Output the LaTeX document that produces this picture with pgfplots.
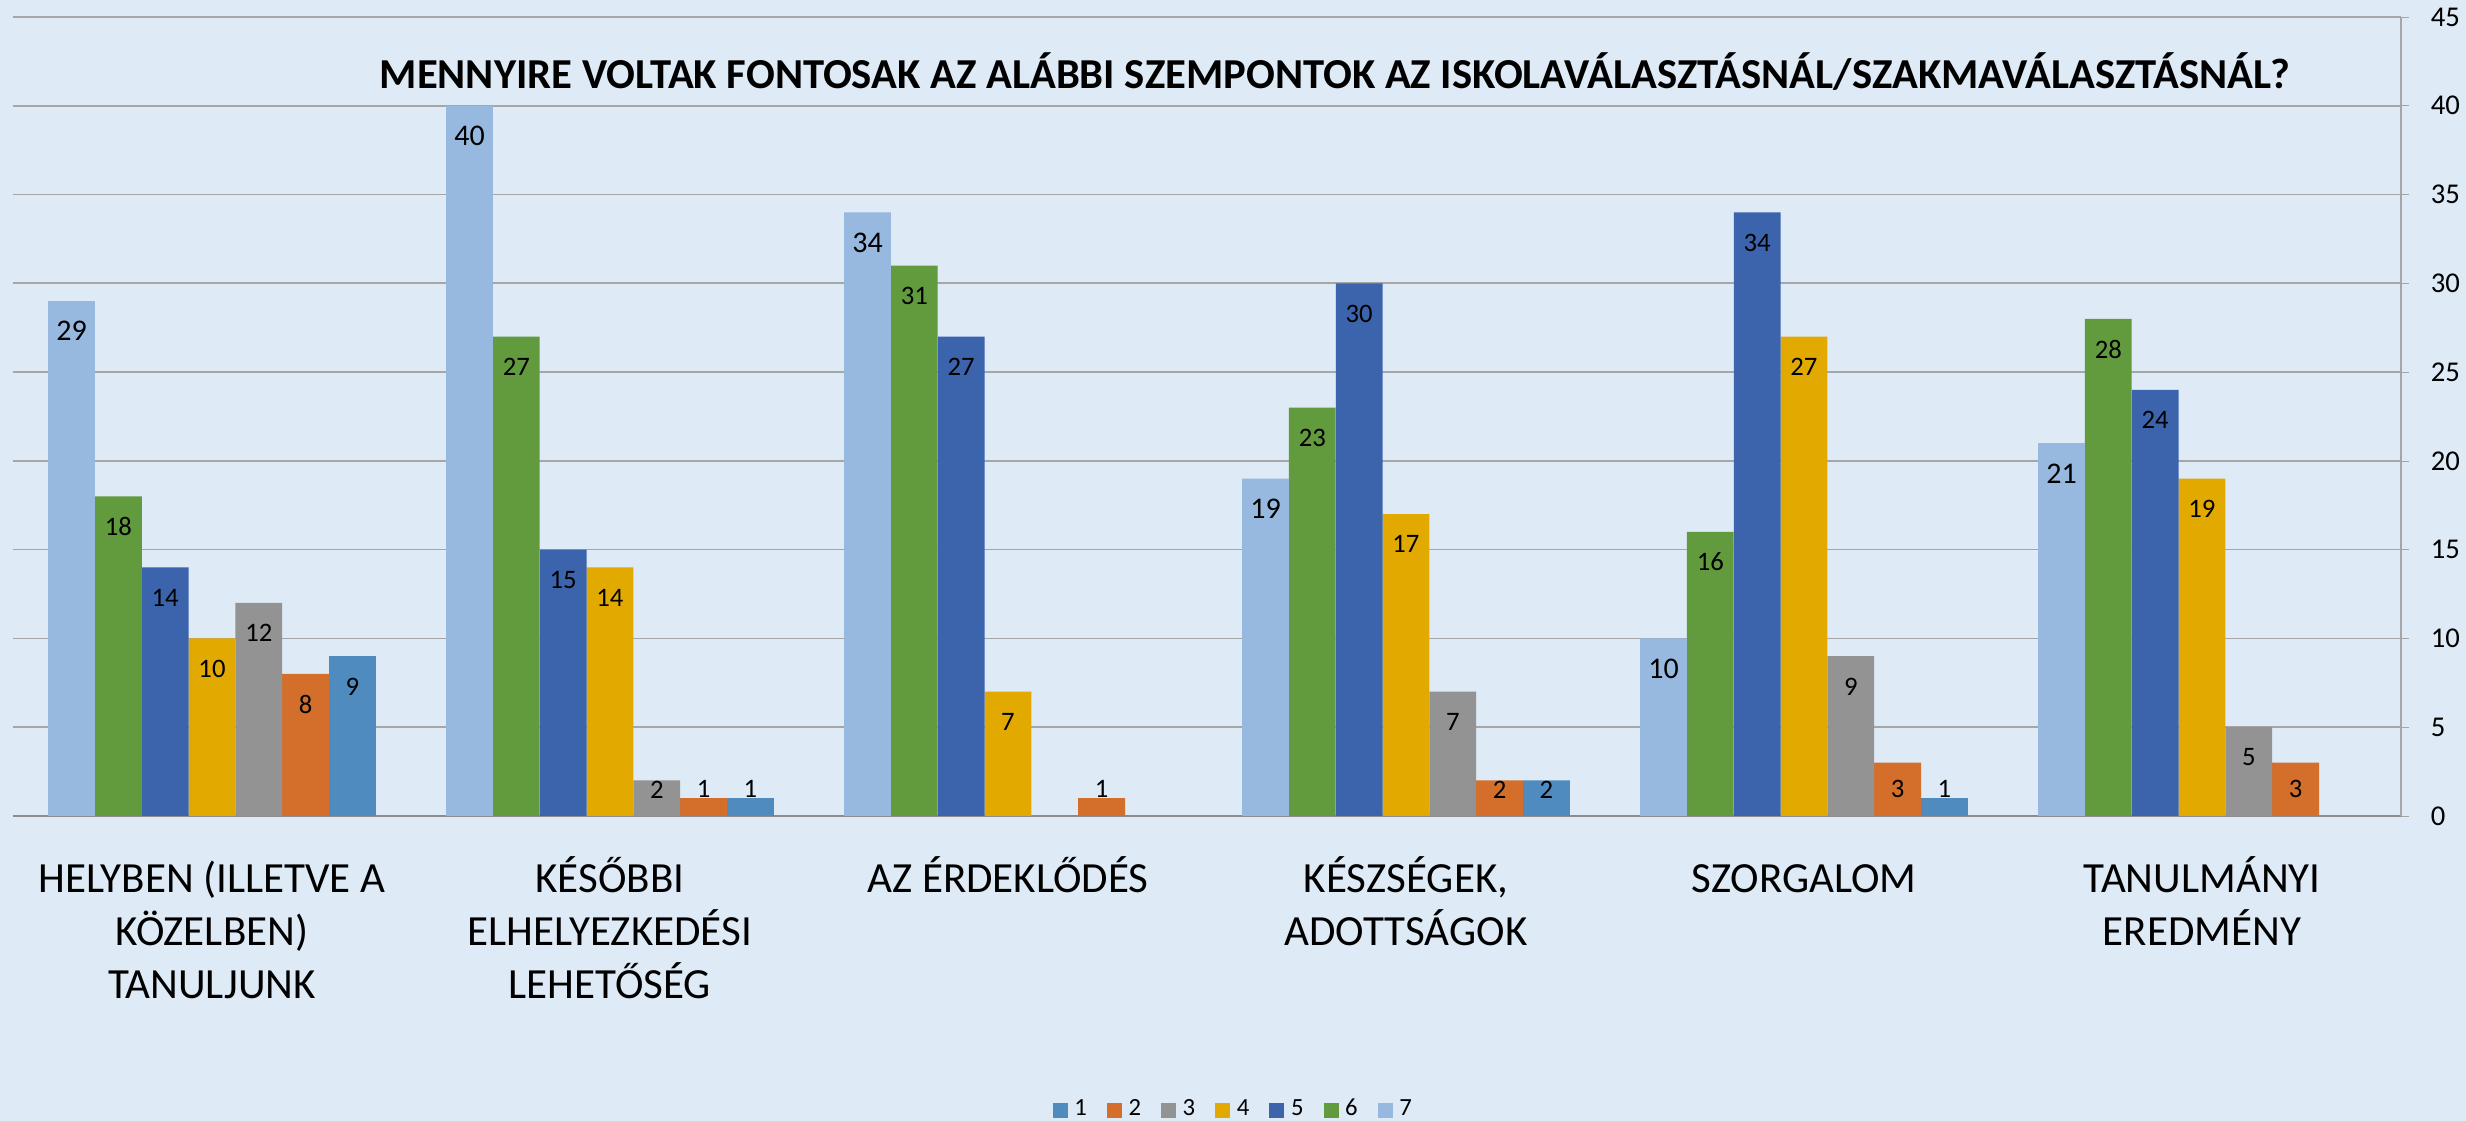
\documentclass[border=0pt]{standalone}
\usepackage{pgfplots}
\pgfplotsset{compat=1.18}
\usepackage{pgfplotstable}
\usepackage{fontspec}
\setmainfont{Carlito}
\definecolor{bg}{RGB}{222,234,246}
\definecolor{gridgray}{RGB}{166,166,166}
\definecolor{axisgray}{RGB}{140,140,140}
\definecolor{cA}{RGB}{79,139,191}
\definecolor{cB}{RGB}{211,110,43}
\definecolor{cC}{RGB}{147,147,147}
\definecolor{cD}{RGB}{226,170,0}
\definecolor{cE}{RGB}{60,100,173}
\definecolor{cF}{RGB}{98,154,62}
\definecolor{cG}{RGB}{151,185,224}

\pgfplotstableread{
x y
0 9
1 1
3 2
4 1
}\tsA
\pgfplotstableread{
x y
0 8
1 1
2 1
3 2
4 3
5 3
}\tsB
\pgfplotstableread{
x y
0 12
1 2
3 7
4 9
5 5
}\tsC
\pgfplotstableread{
x y
0 10
1 14
2 7
3 17
4 27
5 19
}\tsD
\pgfplotstableread{
x y
0 14
1 15
2 27
3 30
4 34
5 24
}\tsE
\pgfplotstableread{
x y
0 18
1 27
2 31
3 23
4 16
5 28
}\tsF
\pgfplotstableread{
x y
0 29
1 40
2 34
3 19
4 10
5 21
}\tsG

\pgfplotsset{
  sq legend/.style={legend image code/.code={\fill[##1,draw=none] (0pt,-2.25pt) rectangle (4.5pt,2.25pt);}},
  mybar/.style 2 args={ybar, bar width=0.1176, bar shift=#2, fill=#1, draw=none, sq legend},
  mylab/.style 2 args={forget plot, draw=none, mark=none, nodes near coords, point meta=explicit,
     nodes near coords style={anchor=center, text=black, inner sep=0pt, font=\fontsize{#1}{#1}\selectfont}},
}

\begin{document}
\begin{tikzpicture}
\fill[bg] (0,0) rectangle (739.8pt,336.3pt);
\begin{axis}[
  at={(3.9pt,91.5pt)}, anchor=south west,
  scale only axis, width=716.4pt, height=239.7pt,
  xmin=-0.5, xmax=5.5, ymin=0, ymax=45,
  axis x line*=bottom, axis y line*=right,
  axis line style={draw=gridgray},
  x axis line style={draw=axisgray},
  xtick={0,1,2,3,4,5},
  xticklabels={
    {\rule{0pt}{11pt}HELYBEN (ILLETVE A\\KÖZELBEN)\\TANULJUNK},
    {\rule{0pt}{11pt}KÉSŐBBI\\ELHELYEZKEDÉSI\\LEHETŐSÉG},
    {\rule{0pt}{11pt}AZ ÉRDEKLŐDÉS},
    {\rule{0pt}{11pt}KÉSZSÉGEK,\\ADOTTSÁGOK},
    {\rule{0pt}{11pt}SZORGALOM},
    {\rule{0pt}{11pt}TANULMÁNYI\\EREDMÉNY}},
  x tick style={draw=none},
  xticklabel style={align=center, anchor=north, inner sep=0pt, yshift=-9.4pt,
     font=\fontsize{12.9}{15.9}\selectfont},
  extra x ticks={-0.5,0.5,1.5,2.5,3.5,4.5,5.5},
  extra x tick labels={},
  extra x tick style={tick align=outside, major tick length=4.2pt, tick style={draw=axisgray}},
  ytick={0,5,...,45},
  ymajorgrids, grid style={draw=gridgray, line width=0.5pt},
  y tick style={draw=gridgray},
  tick align=outside, major tick length=2.4pt,
  yticklabel style={font=\fontsize{8.6}{10}\selectfont, xshift=3pt},
  /pgf/number format/assume math mode=true,
  title={\textbf{MENNYIRE VOLTAK FONTOSAK AZ ALÁBBI SZEMPONTOK AZ ISKOLAVÁLASZTÁSNÁL/SZAKMAVÁLASZTÁSNÁL?}},
  title style={at={(0.5536,0.907)}, anchor=center, inner sep=0pt, font=\fontsize{12.8}{14}\selectfont},
  legend columns=7,
  legend style={at={(0.512,-0.368)}, anchor=center, draw=none, fill=none,
     font=\fontsize{7.4}{8}\selectfont,
     /tikz/every even column/.append style={column sep=4pt}},
  clip=false,
]
\addplot[mybar={cA}{0.3529}] table[x=x,y=y]{\tsA};
\addplot[mybar={cB}{0.2353}] table[x=x,y=y]{\tsB};
\addplot[mybar={cC}{0.1176}] table[x=x,y=y]{\tsC};
\addplot[mybar={cD}{0}] table[x=x,y=y]{\tsD};
\addplot[mybar={cE}{-0.1176}] table[x=x,y=y]{\tsE};
\addplot[mybar={cF}{-0.2353}] table[x=x,y=y]{\tsF};
\addplot[mybar={cG}{-0.3529}] table[x=x,y=y]{\tsG};
\legend{1,2,3,4,5,6,7}

\addplot[mylab={8.1}] table[x expr=\thisrow{x}+0.3529, y expr={max(\thisrow{y}-1.7,1.5)}, meta=y]{\tsA};
\addplot[mylab={8.1}] table[x expr=\thisrow{x}+0.2353, y expr={max(\thisrow{y}-1.7,1.5)}, meta=y]{\tsB};
\addplot[mylab={8.1}] table[x expr=\thisrow{x}+0.1176, y expr={max(\thisrow{y}-1.7,1.5)}, meta=y]{\tsC};
\addplot[mylab={8.1}] table[x expr=\thisrow{x}, y expr={max(\thisrow{y}-1.7,1.5)}, meta=y]{\tsD};
\addplot[mylab={8.1}] table[x expr=\thisrow{x}-0.1176, y expr={max(\thisrow{y}-1.7,1.5)}, meta=y]{\tsE};
\addplot[mylab={8.1}] table[x expr=\thisrow{x}-0.2353, y expr={max(\thisrow{y}-1.7,1.5)}, meta=y]{\tsF};
\addplot[mylab={9}] table[x expr=\thisrow{x}-0.3529, y expr={max(\thisrow{y}-1.7,1.5)}, meta=y]{\tsG};
\end{axis}
\pgfresetboundingbox
\useasboundingbox (0,0) rectangle (739.8pt,336.3pt);
\end{tikzpicture}
\end{document}
